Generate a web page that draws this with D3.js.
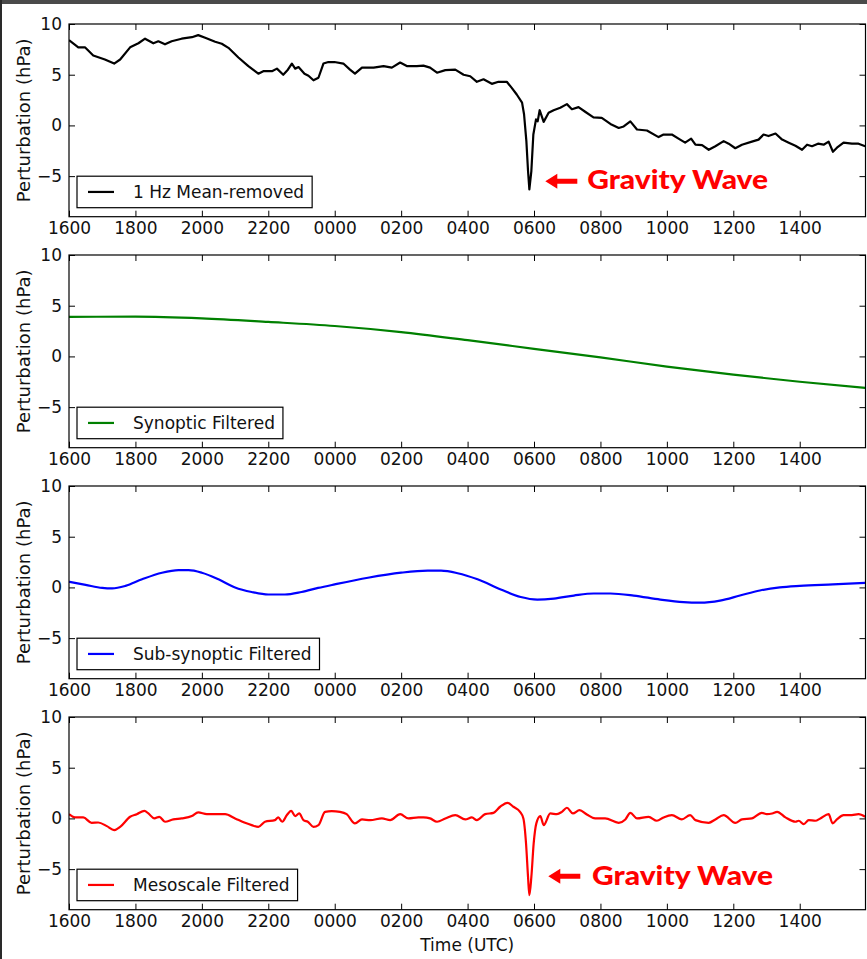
<!DOCTYPE html>
<html>
<head>
<meta charset="utf-8">
<script src="https://cdn.jsdelivr.net/npm/d3@7"></script>
<style>
  html, body { margin: 0; padding: 0; background: #fff; }
  svg { display: block; }
</style>
</head>
<body>
<svg id="chart" width="867" height="959"></svg>
<script>
// ---------------- DATA (hours since 1600 UTC, perturbation in hPa) ----------------
const meanRemovedHours = [0.00,0.28,0.48,0.73,1.08,1.36,1.54,1.84,2.09,2.29,2.54,2.69,2.89,3.09,3.39,3.70,3.89,4.10,4.40,4.60,4.80,5.10,5.40,5.70,5.85,6.11,6.26,6.45,6.59,6.71,6.81,6.91,7.09,7.21,7.36,7.51,7.66,7.81,7.99,8.26,8.46,8.61,8.82,9.17,9.47,9.72,9.97,10.17,10.47,10.67,10.87,11.08,11.33,11.63,11.88,12.08,12.28,12.48,12.73,12.93,13.18,13.33,13.48,13.64,13.70,13.77,13.82,13.86,13.92,13.98,14.06,14.11,14.17,14.29,14.44,14.59,14.79,14.99,15.14,15.34,15.54,15.79,16.04,16.30,16.55,16.70,16.90,17.10,17.40,17.75,17.90,18.15,18.40,18.55,18.73,18.86,19.06,19.26,19.46,19.71,19.86,20.06,20.26,20.56,20.76,20.91,21.06,21.27,21.47,21.67,21.87,22.07,22.22,22.37,22.55,22.72,22.87,23.00,23.12,23.32,23.57,23.77,23.97];
const meanRemoved = [8.4,7.7,7.7,6.9,6.5,6.1,6.5,7.7,8.1,8.55,8.1,8.3,8.0,8.3,8.55,8.7,8.9,8.65,8.25,8.05,7.65,6.7,5.85,5.1,5.35,5.35,5.6,5.0,5.5,6.1,5.6,5.75,5.1,4.9,4.45,4.7,6.1,6.25,6.25,6.1,5.5,5.1,5.7,5.7,5.85,5.7,6.2,5.85,5.85,5.9,5.7,5.2,5.45,5.5,5.0,4.85,4.3,4.55,4.1,4.3,4.3,3.7,3.05,2.25,1.1,-1.55,-4.5,-6.3,-4.5,-0.9,0.6,0.4,1.5,0.35,1.25,1.5,1.75,2.1,1.6,1.8,1.35,0.8,0.75,0.15,-0.25,-0.1,0.4,-0.4,-0.5,-1.15,-0.9,-0.9,-1.4,-1.7,-1.3,-1.9,-1.95,-2.4,-2.05,-1.55,-1.8,-2.25,-1.9,-1.6,-1.4,-0.9,-1.05,-0.8,-1.4,-1.7,-2.0,-2.4,-1.9,-2.05,-1.8,-1.9,-1.6,-2.6,-2.2,-1.7,-1.8,-1.8,-2.05];

const synopticHours = [0,2,4,6,8,10,12,14,16,18,20,22,23.97];
const synoptic = [3.9,3.92,3.75,3.4,3.0,2.4,1.6,0.75,-0.1,-1.0,-1.8,-2.5,-3.1];

const subSynopticHours = [0,0.5,1.0,1.3,1.7,2.2,2.8,3.3,3.6,4.0,4.5,5.0,5.5,6.0,6.5,7.0,7.5,8.0,9.0,10.0,10.8,11.2,11.7,12.3,13.0,13.6,14.1,14.6,15.2,15.8,16.3,17.0,17.8,18.5,19.0,19.6,20.2,20.8,21.4,22.0,23.0,23.97];
const subSynoptic = [0.55,0.25,-0.05,-0.1,0.15,0.8,1.45,1.7,1.7,1.45,0.8,0.0,-0.45,-0.7,-0.7,-0.45,-0.05,0.3,0.95,1.45,1.65,1.65,1.4,0.8,-0.2,-0.95,-1.2,-1.1,-0.8,-0.6,-0.6,-0.8,-1.2,-1.45,-1.5,-1.3,-0.8,-0.3,0.0,0.15,0.3,0.45];

const mesoscaleHours = [0.00,0.18,0.43,0.68,0.88,1.14,1.36,1.54,1.84,2.04,2.27,2.39,2.57,2.72,2.89,3.14,3.39,3.70,3.89,4.15,4.40,4.70,5.00,5.30,5.50,5.70,5.90,6.20,6.30,6.42,6.56,6.69,6.81,6.93,7.06,7.19,7.36,7.51,7.71,7.91,8.16,8.36,8.61,8.82,9.07,9.42,9.67,9.97,10.22,10.52,10.67,10.87,11.08,11.33,11.63,11.93,12.13,12.28,12.53,12.78,12.98,13.20,13.38,13.58,13.68,13.76,13.82,13.86,13.92,13.99,14.07,14.19,14.29,14.49,14.69,14.84,14.99,15.17,15.37,15.59,15.84,16.14,16.55,16.75,16.90,17.10,17.45,17.70,17.90,18.15,18.45,18.70,18.86,19.26,19.46,19.71,20.06,20.26,20.56,20.86,21.01,21.17,21.32,21.57,21.87,21.97,22.12,22.27,22.47,22.62,22.87,22.99,23.12,23.32,23.57,23.77,23.97];
const mesoscale = [0.42,0.1,0.1,-0.43,-0.4,-0.76,-1.15,-0.83,0.16,0.42,0.75,0.49,0,0.16,-0.33,-0.1,0,0.23,0.59,0.42,0.42,0.42,0,-0.43,-0.66,-0.83,-0.33,-0.17,0.1,-0.33,0.33,0.75,0.23,0.49,-0.17,-0.33,-0.83,-0.66,0.65,0.72,0.65,0.42,-0.49,-0.1,-0.17,0,-0.17,0.42,0,0.1,0.1,0,-0.33,0,0.33,-0.1,0.1,-0.17,0.42,0.55,1.15,1.54,1.15,0.65,0,-2.47,-5.77,-7.57,-5.77,-2.47,-0.49,0.23,-0.66,0.49,0.42,0.65,1.05,0.49,0.82,0.39,0,0,-0.43,-0.1,0.55,0,0.16,-0.23,0.1,0.33,-0.1,0.33,-0.17,-0.43,-0.1,0.33,-0.43,-0.1,0,0.55,0.42,0.49,0.65,0.1,-0.33,-0.23,-0.56,-0.17,-0.23,0,0.42,-0.49,-0.1,0.33,0.33,0.42,0.16];

const xTickHours = [0,2,4,6,8,10,12,14,16,18,20,22];
const xTickLabels = ["1600","1800","2000","2200","0000","0200","0400","0600","0800","1000","1200","1400"];
const yTicks = [-5,0,5,10];
const legendLabels = ["1 Hz Mean-removed","Synoptic Filtered","Sub-synoptic Filtered","Mesoscale Filtered"];
const seriesColors = ["#000000","#008000","#0000ff","#ff0000"];
const annotationText = "Gravity Wave";

// ---------------- LAYOUT ----------------
const svg = d3.select("#chart");
const W = 867, H = 959;
const left = 69, right = 865.5;
const panelTops = [24, 255, 486, 717];
const panelH = 192.7;
const xDomain = [0, 23.98];
const yDomain = [-9, 10];

const x = d3.scaleLinear().domain(xDomain).range([left, right]);

const panels = [
  {hours: meanRemovedHours, vals: meanRemoved, curve: d3.curveLinear, annot: {arrowH: 14.34, arrowV: -5.5, textH: 15.6, textV: -6.3}},
  {hours: synopticHours, vals: synoptic, curve: d3.curveMonotoneX},
  {hours: subSynopticHours, vals: subSynoptic, curve: d3.curveMonotoneX},
  {hours: mesoscaleHours, vals: mesoscale, curve: d3.curveMonotoneX, annot: {arrowH: 14.43, arrowV: -5.7, textH: 15.75, textV: -6.6}}
];

const FONT = "'DejaVu Sans', 'Bitstream Vera Sans', sans-serif";

panels.forEach((p, i) => {
  const top = panelTops[i];
  const bottom = top + panelH;
  const y = d3.scaleLinear().domain(yDomain).range([bottom, top]);
  const g = svg.append("g");

  const clipId = "clip" + i;
  svg.append("clipPath").attr("id", clipId)
    .append("rect").attr("x", left).attr("y", top).attr("width", right - left).attr("height", panelH);

  const data = p.hours.map((h, k) => [h, p.vals[k]]);
  g.append("path")
    .attr("clip-path", `url(#${clipId})`)
    .attr("d", d3.line().x(d => x(d[0])).y(d => y(d[1])).curve(p.curve)(data))
    .attr("fill", "none")
    .attr("stroke", seriesColors[i])
    .attr("stroke-width", 2.2)
    .attr("stroke-linejoin", "round");

  const tickLen = 6;
  const bAxis = d3.axisBottom(x).tickValues(xTickHours).tickFormat((d, k) => xTickLabels[k]).tickSizeInner(-tickLen).tickSizeOuter(0).tickPadding(5);
  const tAxis = d3.axisTop(x).tickValues(xTickHours).tickFormat("").tickSizeInner(-tickLen).tickSizeOuter(0);
  const lAxis = d3.axisLeft(y).tickValues(yTicks).tickFormat(d => d < 0 ? "\u2212" + Math.abs(d) : d).tickSizeInner(-tickLen).tickSizeOuter(0).tickPadding(7);
  const rAxis = d3.axisRight(y).tickValues(yTicks).tickFormat("").tickSizeInner(-tickLen).tickSizeOuter(0);

  const styleAxis = sel => {
    sel.selectAll(".domain").remove();
    sel.selectAll(".tick line").attr("stroke", "#000").attr("stroke-width", 1);
    sel.selectAll("text").attr("font-family", FONT).attr("font-size", 17).attr("fill", "#111");
  };
  g.append("g").attr("transform", `translate(0,${bottom})`).call(bAxis).call(styleAxis);
  g.append("g").attr("transform", `translate(0,${top})`).call(tAxis).call(styleAxis);
  g.append("g").attr("transform", `translate(${left},0)`).call(lAxis).call(styleAxis);
  g.append("g").attr("transform", `translate(${right},0)`).call(rAxis).call(styleAxis);

  g.append("rect").attr("x", left).attr("y", top).attr("width", right - left).attr("height", panelH)
    .attr("fill", "none").attr("stroke", "#000").attr("stroke-width", 1.2);

  g.append("text")
    .attr("transform", `translate(30,${top + panelH / 2}) rotate(-90)`)
    .attr("text-anchor", "middle")
    .attr("font-family", FONT).attr("font-size", 18).attr("fill", "#111")
    .text("Perturbation (hPa)");

  const lg = g.append("g");
  const boxL = 77, boxB = bottom - 9, boxH = 31.5;
  const txt = lg.append("text")
    .attr("x", 133).attr("y", boxB - boxH / 2 + 6)
    .attr("font-family", FONT).attr("font-size", 17).attr("fill", "#111")
    .text(legendLabels[i]);
  const tw = txt.node().getComputedTextLength();
  lg.insert("rect", "text")
    .attr("x", boxL).attr("y", boxB - boxH).attr("width", 133 + tw + 8 - boxL).attr("height", boxH)
    .attr("fill", "#fff").attr("stroke", "#000").attr("stroke-width", 1.2);
  lg.append("line")
    .attr("x1", 88).attr("x2", 114).attr("y1", boxB - boxH / 2).attr("y2", boxB - boxH / 2)
    .attr("stroke", seriesColors[i]).attr("stroke-width", 2.2);

  if (p.annot) {
    const a = p.annot;
    const tx = x(a.arrowH), ty = y(a.arrowV);
    g.append("path")
      .attr("d", `M${tx},${ty} L${tx + 12},${ty - 7.5} L${tx + 12},${ty - 2.5} L${tx + 32},${ty - 2.5} L${tx + 32},${ty + 2.5} L${tx + 12},${ty + 2.5} L${tx + 12},${ty + 7.5} Z`)
      .attr("fill", "#ff0000");
    g.append("text")
      .attr("x", x(a.textH)).attr("y", y(a.textV))
      .attr("font-family", "Lato, 'Open Sans', sans-serif").attr("font-weight", 900)
      .attr("font-size", 27).attr("fill", "#ff0000")
      .attr("textLength", 181).attr("lengthAdjust", "spacingAndGlyphs")
      .text(annotationText);
  }
});

svg.append("text")
  .attr("x", (left + right) / 2).attr("y", 951)
  .attr("text-anchor", "middle")
  .attr("font-family", FONT).attr("font-size", 17).attr("fill", "#111")
  .text("Time (UTC)");

svg.append("rect").attr("x", 0).attr("y", 0).attr("width", W).attr("height", 4).attr("fill", "#4a4a4a");
svg.append("rect").attr("x", 0).attr("y", 0).attr("width", 2).attr("height", H).attr("fill", "#2a2a2a");
</script>
</body>
</html>
